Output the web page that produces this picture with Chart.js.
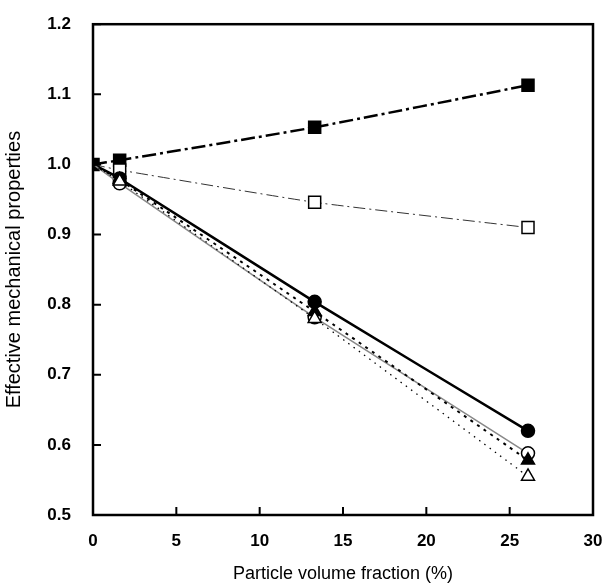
<!DOCTYPE html>
<html>
<head>
<meta charset="utf-8">
<script src="https://cdn.jsdelivr.net/npm/chart.js@4/dist/chart.umd.min.js"></script>
<style>
  body { margin: 0; background: #fff; }
  #wrap { width: 616px; height: 585px; }
</style>
</head>
<body>
<div id="wrap"><canvas id="chart" width="616" height="585"></canvas></div>
<script>
// volume fraction (%) of each measurement
const fractions = [0, 1.6, 13.3, 26.1];

// effective properties, one array per series
const filledSquare = [1.0, 1.006, 1.053, 1.113];
const openSquare = [1.0, 0.992, 0.946, 0.910];
const filledCircle = [1.0, 0.980, 0.804, 0.620];
const openCircle = [1.0, 0.973, 0.782, 0.588];
const filledTriangle = [1.0, 0.978, 0.790, 0.578];
const openTriangle = [1.0, 0.976, 0.780, 0.555];

const xTicks = [0, 5, 10, 15, 20, 25, 30];
const yTicks = [0.5, 0.6, 0.7, 0.8, 0.9, 1.0, 1.1, 1.2];

function pts(values) {
    return fractions.map((f, i) => ({x: f, y: values[i]}));
}

// only the filled square shows its marker at the common origin point
function series(values, style, filled, radius, lineColor, lineWidth, dash, showFirst) {
    return {
        data: pts(values),
        pointStyle: style,
        pointRadius: values.map((v, i) => (i === 0 && !showFirst) ? 0 : radius),
        pointBackgroundColor: filled ? "#000" : "#fff",
        pointBorderColor: "#000",
        pointBorderWidth: 1.5,
        borderColor: lineColor,
        borderWidth: lineWidth,
        borderDash: dash,
        tension: 0.15,
        fill: false
    };
}

// box round the plot and inward tick marks
const frame = {
    id: "frame",
    afterDraw(chart) {
        const ctx = chart.ctx;
        const a = chart.chartArea;
        ctx.save();
        ctx.strokeStyle = "#000";
        ctx.lineWidth = 2.5;
        ctx.strokeRect(a.left, a.top, a.right - a.left, a.bottom - a.top);
        ctx.lineWidth = 2;
        ctx.beginPath();
        xTicks.forEach(t => {
            const px = chart.scales.x.getPixelForValue(t);
            ctx.moveTo(px, a.bottom);
            ctx.lineTo(px, a.bottom - 8);
        });
        yTicks.forEach(t => {
            const py = chart.scales.y.getPixelForValue(t);
            ctx.moveTo(a.left, py);
            ctx.lineTo(a.left + 8, py);
        });
        ctx.stroke();
        ctx.restore();
    }
};

const tickFont = {family: "'Liberation Sans', Arial, sans-serif", size: 17, weight: "bold"};
const xTitleFont = {family: "'Liberation Sans', Arial, sans-serif", size: 18, weight: "normal"};
const yTitleFont = {family: "'Liberation Sans', Arial, sans-serif", size: 20, weight: "normal"};

new Chart(document.getElementById("chart"), {
    type: "line",
    data: {
        datasets: [
            series(openTriangle, "triangle", false, 7.5, "#000", 1.3, [1.5, 5], false),
            series(filledTriangle, "triangle", true, 7.5, "#000", 2, [3, 5], false),
            series(openCircle, "circle", false, 6.5, "#888", 1.5, [], false),
            series(filledCircle, "circle", true, 6.5, "#000", 2.5, [], false),
            series(openSquare, "rect", false, 8.5, "#333", 1, [12, 4, 2, 4], false),
            series(filledSquare, "rect", true, 8.5, "#000", 2.5, [14, 4, 3, 4], true)
        ]
    },
    options: {
        responsive: false,
        animation: false,
        layout: {padding: {left: 0, right: 23, top: 16, bottom: 0}},
        plugins: {legend: {display: false}, tooltip: {enabled: false}},
        scales: {
            x: {
                type: "linear",
                min: 0,
                max: 30,
                afterBuildTicks: s => { s.ticks = xTicks.map(v => ({value: v})); },
                afterFit: s => { s.height = 70; },
                grid: {display: false},
                border: {display: false},
                ticks: {color: "#000", font: tickFont, padding: 8},
                title: {display: true, text: "Particle volume fraction (%)", color: "#000", font: xTitleFont, padding: {top: 4, bottom: 0}}
            },
            y: {
                type: "linear",
                min: 0.5,
                max: 1.2,
                afterBuildTicks: s => { s.ticks = yTicks.map(v => ({value: v})); },
                afterFit: s => { s.width = 93; },
                grid: {display: false},
                border: {display: false},
                ticks: {color: "#000", font: tickFont, padding: 14, callback: v => v.toFixed(1)},
                title: {display: true, text: "Effective mechanical properties", color: "#000", font: yTitleFont, padding: {top: 2, bottom: 6}}
            }
        }
    },
    plugins: [frame]
});
</script>
</body>
</html>
